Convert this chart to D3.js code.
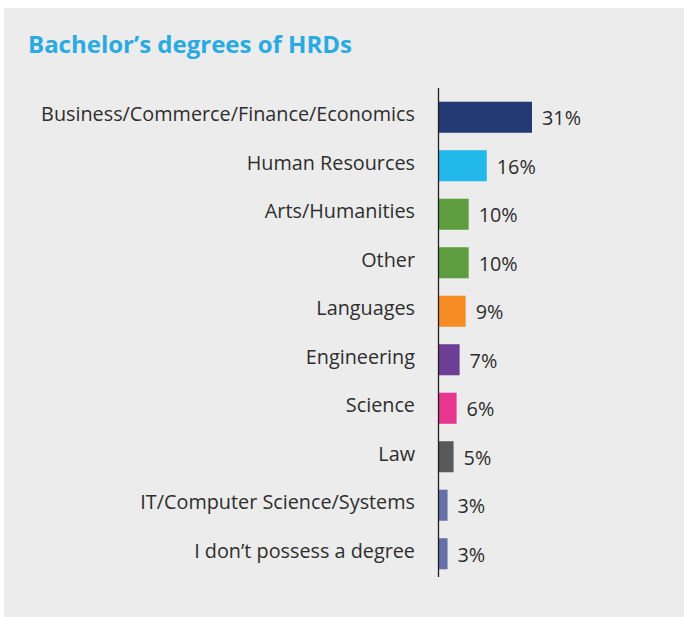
<!DOCTYPE html>
<html>
<head>
<meta charset="utf-8">
<script src="https://cdn.jsdelivr.net/npm/d3@7"></script>
<style>
  html, body { margin: 0; padding: 0; background: #ffffff; }
  svg { display: block; }
</style>
</head>
<body>
<svg id="chart" width="684" height="617"></svg>
<script>
const title = "Bachelor’s degrees of HRDs";
const categories = [
  "Business/Commerce/Finance/Economics",
  "Human Resources",
  "Arts/Humanities",
  "Other",
  "Languages",
  "Engineering",
  "Science",
  "Law",
  "IT/Computer Science/Systems",
  "I don’t possess a degree"
];
const values = [31, 16, 10, 10, 9, 7, 6, 5, 3, 3];
const colors = ["#233a75", "#22b8ec", "#5f9e40", "#5f9e40", "#f68a23", "#6d3e96", "#e8378f", "#58595b", "#6570a8", "#6570a8"];

const svg = d3.select("#chart");
const W = 684, H = 617;
const font = "'Open Sans', Lato, sans-serif";

// fit a text's font size so its width matches a target
function fitSize(sel, base, target) {
  const w = sel.node().getComputedTextLength();
  return base * target / w;
}

svg.append("rect").attr("x", 4).attr("y", 8).attr("width", W - 4).attr("height", H - 8).attr("fill", "#ebeceb");

const t = svg.append("text")
  .attr("x", 28).attr("y", 53)
  .attr("font-family", font).attr("font-weight", 700).attr("font-size", 22)
  .attr("fill", "#29abe2")
  .text(title);
t.attr("font-size", Math.min(24, fitSize(t, 22, 324)));

const x0 = 438.5;
const x = d3.scaleLinear().domain([0, 31]).range([x0, 532]);
const y = d3.scaleBand().domain(categories).range([93, 578]).paddingInner(0.36).paddingOuter(0.18);

svg.append("g").selectAll("rect").data(categories).join("rect")
  .attr("x", x0)
  .attr("y", d => y(d))
  .attr("width", (d, i) => x(values[i]) - x0)
  .attr("height", y.bandwidth())
  .attr("fill", (d, i) => colors[i]);

svg.append("line")
  .attr("x1", x0).attr("x2", x0).attr("y1", 88).attr("y2", 577)
  .attr("stroke", "#231f20").attr("stroke-width", 1.3);

const labels = svg.append("g").selectAll("text").data(categories).join("text")
  .attr("x", 415)
  .attr("y", d => y(d) + y.bandwidth() / 2 + 4)
  .attr("text-anchor", "end")
  .attr("font-family", font).attr("font-size", 18)
  .attr("fill", "#2f2e2e")
  .text(d => d);
const lsize = Math.min(20, fitSize(labels.filter((d, i) => i === 0), 18, 374));
labels.attr("font-size", lsize);

svg.append("g").selectAll("text").data(categories).join("text")
  .attr("x", (d, i) => x(values[i]) + 10)
  .attr("y", d => y(d) + y.bandwidth() / 2 + 8)
  .attr("font-family", font).attr("font-size", lsize)
  .attr("fill", "#2f2e2e")
  .text((d, i) => values[i] + "%");
</script>
</body>
</html>
